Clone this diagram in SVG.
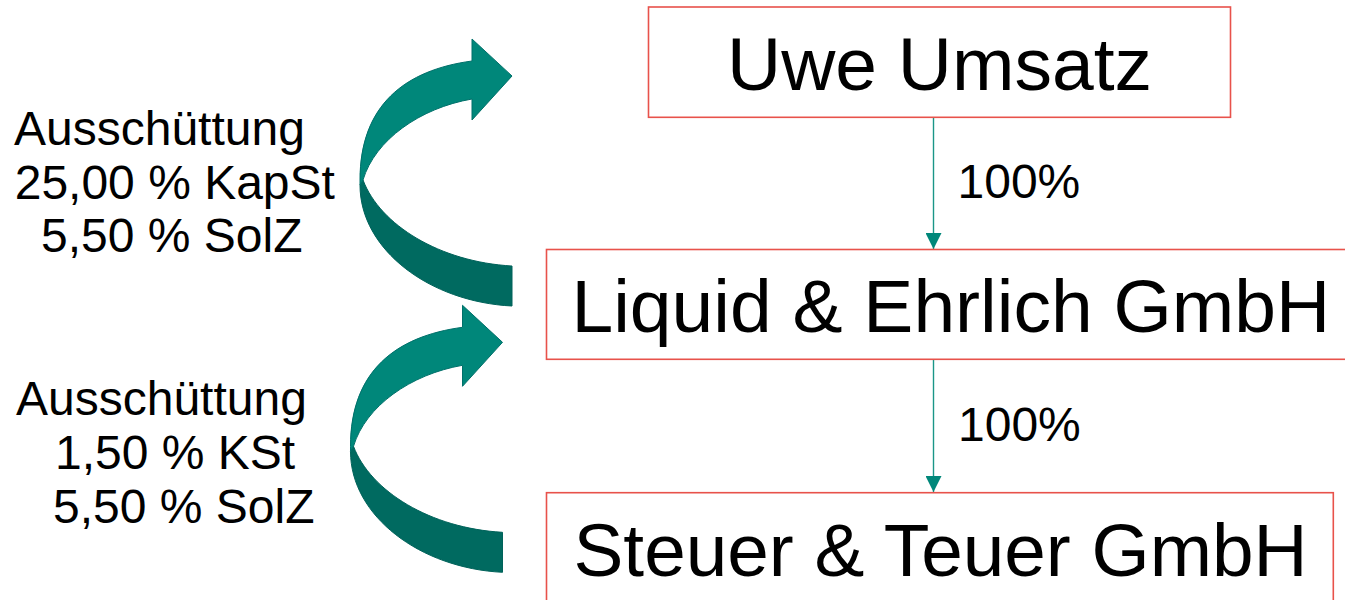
<svg xmlns="http://www.w3.org/2000/svg" width="1345" height="600" viewBox="0 0 1345 600">
<style>
  .box { fill: #FFFFFF; stroke: #E8524B; stroke-width: 1.6; }
  .big { font-family: "Liberation Sans", Arial, sans-serif; font-size: 75px; fill: #000000; }
  .lbl { font-family: "Liberation Sans", Arial, sans-serif; font-size: 48px; fill: #000000; }
  .conn { stroke: #1A9688; stroke-width: 1.4; fill: none; }
  .light { fill: #00877A; stroke: #00706A; stroke-width: 1; }
  .dark { fill: #006A60; stroke: #00625A; stroke-width: 1; }
</style>
<defs>
  <marker id="ah" markerWidth="16" markerHeight="16" viewBox="0 0 16 16" refX="16" refY="8" orient="auto" markerUnits="userSpaceOnUse">
    <path d="M0 0 L16 8 L0 16 Z" fill="#00877A"/>
  </marker>
  <g id="curved">
    <path class="dark" d="M363 180 C380 225 440 262 512 266 L512 306 C430 302 360 250 360 185 Z"/>
    <path class="light" d="M360 185 L360 180 C360 105 405 70 472 61 L472 39 L512 76 L472 120 L472 99 C420 108 375 140 363 180 Z"/>
  </g>
</defs>
<rect width="1345" height="600" fill="#FFFFFF"/>

<g id="arrow-upper">
  <use href="#curved"/>
</g>
<g id="arrow-lower">
  <use href="#curved" transform="translate(-9.5,266.3)"/>
</g>

<g id="label-upper">
  <text class="lbl" x="14" y="145">Ausschüttung</text>
  <text class="lbl" x="14.7" y="199.3">25,00 % KapSt</text>
  <text class="lbl" x="41" y="251.7">5,50 % SolZ</text>
</g>
<g id="label-lower">
  <text class="lbl" x="16" y="415">Ausschüttung</text>
  <text class="lbl" x="55" y="469.3">1,50 % KSt</text>
  <text class="lbl" x="53" y="523.3">5,50 % SolZ</text>
</g>

<g id="connectors">
  <line class="conn" x1="933.5" y1="117.5" x2="933.5" y2="249" marker-end="url(#ah)"/>
  <line class="conn" x1="933.5" y1="359.5" x2="933.5" y2="492" marker-end="url(#ah)"/>
  <text class="lbl" x="957.5" y="198.3">100%</text>
  <text class="lbl" x="958" y="440.7">100%</text>
</g>

<g id="node-uwe">
  <rect class="box" x="648.5" y="7" width="582" height="110.3"/>
  <text class="big" x="727" y="90">Uwe Umsatz</text>
</g>
<g id="node-liquid">
  <rect class="box" x="546.5" y="249.5" width="810" height="109.8"/>
  <text class="big" x="571.5" y="332.3">Liquid &amp; Ehrlich GmbH</text>
</g>
<g id="node-steuer">
  <rect class="box" x="546.5" y="492.7" width="786.8" height="120"/>
  <text class="big" x="573.5" y="576" textLength="734" lengthAdjust="spacingAndGlyphs">Steuer &amp; Teuer GmbH</text>
</g>
</svg>
